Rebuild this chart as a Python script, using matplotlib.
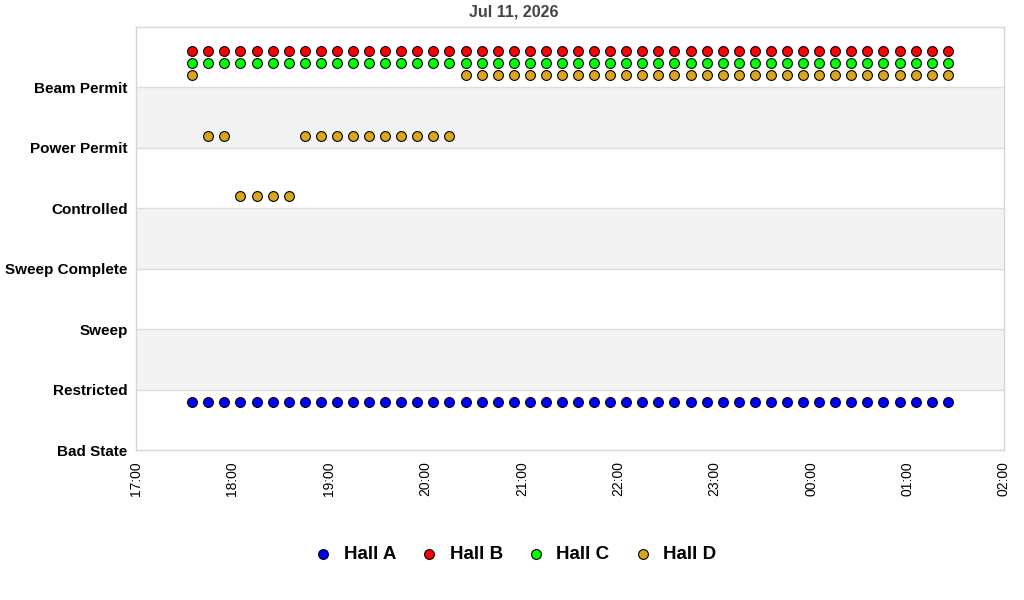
#!/usr/bin/env python3

import matplotlib
matplotlib.use('Agg')
import numpy as np
import pandas as pd
import matplotlib.pyplot as plt
import matplotlib.dates as mdates

plt.rcParams['font.family'] = ['Liberation Sans', 'DejaVu Sans']

states = ['Bad State', 'Restricted', 'Sweep', 'Sweep Complete',
          'Controlled', 'Power Permit', 'Beam Permit']

# samples every 10 minutes, 17:35 -> 01:25
times = pd.date_range('2026-07-11 17:35', '2026-07-12 01:25', freq='10min')

halls = ['Hall A', 'Hall B', 'Hall C', 'Hall D']
colors = ['#0000ff', '#ff0000', '#00ff00', '#daa520']
offsets = [0.8, 0.6, 0.4, 0.2]

hall_a = [0] * 48
hall_b = [6] * 48
hall_c = [6] * 48
hall_d = [6, 5, 5, 4, 4, 4, 4, 5, 5, 5, 5, 5, 5, 5, 5, 5, 5,
          6, 6, 6, 6, 6, 6, 6, 6, 6, 6, 6, 6, 6, 6, 6, 6, 6, 6, 6, 6, 6, 6, 6, 6,
          6, 6, 6, 6, 6, 6, 6]

fig = plt.figure(figsize=(10.24, 6), dpi=100)
ax = fig.add_axes([136/1024, 1 - 450/600, (1004 - 136)/1024, (450 - 27)/600])

# alternating bands
for lo in (1, 3, 5):
	ax.axhspan(lo, lo + 1, color='#f3f3f3', zorder=0, lw=0)
for y in range(1, 7):
	ax.axhline(y, color='#dddddd', lw=1, zorder=1)

for name, col, off, vals in zip(halls, colors, offsets, [hall_a, hall_b, hall_c, hall_d]):
	ax.scatter(times, np.array(vals) + off, s=50, color=col, edgecolors='black',
	           linewidths=0.8, zorder=3, label=name)

ax.set_ylim(0, 7)
ax.set_yticks(range(len(states)))
ax.set_yticklabels(states, fontsize=11, fontweight='bold')

ax.set_xlim(pd.Timestamp('2026-07-11 17:00'), pd.Timestamp('2026-07-12 02:00'))
ax.xaxis.set_major_locator(mdates.HourLocator())
ax.xaxis.set_major_formatter(mdates.DateFormatter('%H:%M'))
ax.tick_params(axis='x', rotation=90, labelsize=10, length=0, pad=8)
ax.tick_params(axis='y', length=0, pad=6)

for s in ax.spines.values():
	s.set_color('#d6d6d6')
	s.set_linewidth(1)

fig.text(0.502, 1 - 12/600, 'Jul 11, 2026', ha='center', va='center',
         fontsize=11.5, fontweight='bold', color='#444444')

fig.legend(loc='center', bbox_to_anchor=(515/1024, 1 - 554/600), ncol=4,
           frameon=False, prop={'size': 13.5, 'weight': 'bold'},
           handlelength=1.0, handletextpad=0.6, columnspacing=1.26,
           markerscale=1.0)

fig.savefig('out.png', dpi=100)
